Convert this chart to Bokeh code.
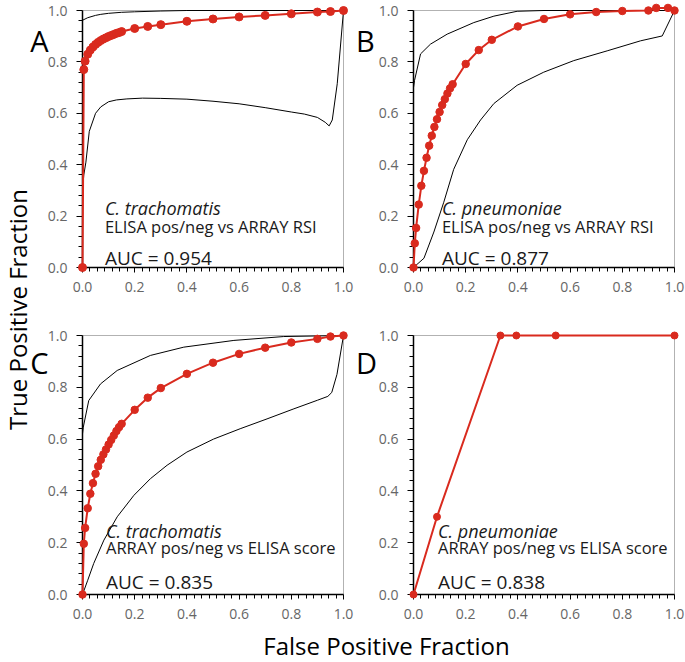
from bokeh.plotting import figure
from bokeh.models import Range1d, FixedTicker, Label, BoxAnnotation, NumeralTickFormatter, LinearAxis
from bokeh.layouts import row, column
from bokeh.embed import file_html
from bokeh.resources import INLINE

# ---------------- data ----------------
A_red_x = [0.0, 0.005, 0.01, 0.02, 0.03, 0.04, 0.05, 0.06, 0.07, 0.08, 0.09, 0.10, 0.11, 0.12, 0.13, 0.14, 0.15,
           0.2, 0.25, 0.3, 0.4, 0.5, 0.6, 0.7, 0.8, 0.9, 0.95, 1.0]
A_red_y = [0.0, 0.77, 0.803, 0.83, 0.846, 0.858, 0.868, 0.876, 0.883, 0.889, 0.894, 0.899, 0.903, 0.907, 0.911, 0.914, 0.918,
           0.930, 0.938, 0.945, 0.958, 0.967, 0.975, 0.981, 0.987, 0.994, 0.996, 1.0]
A_up_x = [0.0, 0.02, 0.05, 0.07, 0.1, 0.15, 0.2, 0.3, 0.4, 1.0]
A_up_y = [0.962, 0.972, 0.981, 0.985, 0.989, 0.993, 0.995, 0.998, 1.0, 1.0]
A_lo_x = [0.0, 0.005, 0.013, 0.026, 0.05, 0.07, 0.1, 0.13, 0.17, 0.23, 0.3, 0.4, 0.5, 0.6, 0.7, 0.8, 0.85, 0.9,
          0.93, 0.945, 0.957, 0.976, 1.0]
A_lo_y = [0.30, 0.36, 0.41, 0.53, 0.60, 0.625, 0.645, 0.652, 0.656, 0.659, 0.658, 0.655, 0.647, 0.637, 0.622, 0.605,
          0.597, 0.584, 0.565, 0.551, 0.574, 0.715, 1.0]

B_red_x = [0.0, 0.005, 0.01, 0.02, 0.03, 0.04, 0.05, 0.06, 0.07, 0.08, 0.09, 0.10, 0.11, 0.12, 0.13, 0.14, 0.15,
           0.2, 0.25, 0.3, 0.4, 0.5, 0.6, 0.7, 0.8, 0.9, 0.93, 0.975, 1.0]
B_red_y = [0.0, 0.094, 0.154, 0.245, 0.318, 0.376, 0.427, 0.474, 0.513, 0.547, 0.577, 0.605, 0.632, 0.655, 0.677, 0.697, 0.713,
           0.792, 0.846, 0.886, 0.938, 0.967, 0.985, 0.994, 0.998, 1.0, 1.01, 1.01, 1.0]
B_up_x = [0.0, 0.004, 0.027, 0.065, 0.129, 0.231, 0.308, 0.397, 0.5, 1.0]
B_up_y = [0.70, 0.728, 0.831, 0.869, 0.908, 0.953, 0.978, 0.997, 1.0, 1.0]
B_lo_x = [0.0, 0.04, 0.078, 0.116, 0.154, 0.206, 0.257, 0.308, 0.397, 0.499, 0.614, 0.742, 0.87, 0.953, 1.0]
B_lo_y = [0.0, 0.036, 0.138, 0.254, 0.382, 0.497, 0.574, 0.638, 0.709, 0.760, 0.805, 0.843, 0.882, 0.901, 1.0]

C_red_x = [0.0, 0.005, 0.01, 0.02, 0.03, 0.04, 0.05, 0.06, 0.07, 0.08, 0.09, 0.10, 0.11, 0.12, 0.13, 0.14, 0.15,
           0.2, 0.25, 0.3, 0.4, 0.5, 0.6, 0.7, 0.8, 0.9, 0.95, 1.0]
C_red_y = [0.0, 0.196, 0.257, 0.333, 0.389, 0.43, 0.466, 0.495, 0.52, 0.541, 0.56, 0.579, 0.597, 0.614, 0.631, 0.646, 0.659,
           0.713, 0.76, 0.797, 0.852, 0.895, 0.929, 0.953, 0.973, 0.987, 0.996, 1.0]
C_up_x = [0.0, 0.003, 0.024, 0.069, 0.133, 0.26, 0.388, 0.58, 0.771, 1.0]
C_up_y = [0.62, 0.646, 0.749, 0.813, 0.865, 0.923, 0.955, 0.981, 0.996, 1.0]
C_lo_x = [0.0, 0.02, 0.043, 0.082, 0.133, 0.197, 0.26, 0.324, 0.40, 0.502, 0.604, 0.707, 0.81, 0.90, 0.94, 0.955, 0.975, 1.0]
C_lo_y = [0.0, 0.055, 0.12, 0.21, 0.30, 0.383, 0.447, 0.499, 0.55, 0.60, 0.64, 0.678, 0.717, 0.75, 0.765, 0.78, 0.85, 1.0]

D_red_x = [0.0, 0.09, 0.333, 0.394, 0.545, 1.0]
D_red_y = [0.0, 0.30, 1.0, 1.0, 1.0, 1.0]

major_ticks = [0.0, 0.2, 0.4, 0.6, 0.8, 1.0]
x_minor_ticks = [round(i * 0.2 / 7, 5) for i in range(36) if i % 7 != 0]
y_minor_ticks = [round(i * 0.04, 4) for i in range(26) if i % 5 != 0]

panel_letters = ["A", "B", "C", "D"]
species = ["C. trachomatis", "C. pneumoniae", "C. trachomatis", "C. pneumoniae"]
comparisons = ["ELISA pos/neg vs ARRAY RSI", "ELISA pos/neg vs ARRAY RSI",
               "ARRAY pos/neg vs ELISA score", "ARRAY pos/neg vs ELISA score"]
auc_labels = ["AUC = 0.954", "AUC = 0.877", "AUC = 0.835", "AUC = 0.838"]
y_title = "True Positive Fraction"
x_title = "False Positive Fraction"

# ---------------- style / geometry (pixels) ----------------
RED = "#d92a1e"
FONT = "Open Sans"
TICK_GREY = "#666666"
TXT = "#1a1a1a"

SPLIT_X = 354      # page x where right column starts
PANELS_H = 628     # height of the two panel rows
XT_H = 34          # height of x-title strip
PAGE_W = 685
TOP_Y = (10, 267)  # page y of data 1 and data 0, top row
BOT_Y = (335, 594)  # bottom row


def style_axis(ax, minor, tout, standoff):
    ax.ticker = FixedTicker(ticks=major_ticks, minor_ticks=minor)
    ax.formatter = NumeralTickFormatter(format="0.0")
    ax.fixed_location = 0
    ax.bounds = (0, 1)
    ax.axis_line_color = "black"
    ax.axis_line_width = 1.5
    ax.major_tick_line_color = "black"
    ax.minor_tick_line_color = "black"
    ax.major_tick_line_width = 1
    ax.minor_tick_line_width = 1
    ax.major_tick_in = 0
    ax.minor_tick_in = 0
    ax.major_tick_out = tout
    ax.minor_tick_out = 4
    ax.major_label_text_font = FONT
    ax.major_label_text_font_size = "14px"
    ax.major_label_text_color = TICK_GREY
    ax.major_label_standoff = standoff


def yrange(y1, y0):
    sy = y0 - y1
    return Range1d((y0 - PANELS_H) / sy, y0 / sy)


def build_column(col_left, col_w, x0, x1, specs):
    sx = x1 - x0
    p = figure(frame_width=col_w, frame_height=PANELS_H,
               x_range=Range1d((col_left - x0) / sx, (col_left + col_w - x0) / sx),
               y_range=yrange(*TOP_Y), output_backend="svg", toolbar_location=None,
               min_border_left=0, min_border_right=0, min_border_top=0, min_border_bottom=0)
    p.extra_y_ranges = {"bot": yrange(*BOT_Y)}
    p.xgrid.visible = False
    p.ygrid.visible = False
    p.outline_line_color = None
    p.background_fill_color = "white"
    p.border_fill_color = "white"

    for rname, s in zip(("default", "bot"), specs):
        if rname == "default":
            xa, ya = p.xaxis[0], p.yaxis[0]
        else:
            xa = LinearAxis(y_range_name="bot")
            ya = LinearAxis(y_range_name="bot")
            p.add_layout(xa, "below")
            p.add_layout(ya, "left")
        style_axis(xa, x_minor_ticks, 5, 9)
        style_axis(ya, y_minor_ticks, 6, 9)

        p.add_layout(BoxAnnotation(left=0, right=1, bottom=0, top=1, fill_alpha=0, y_range_name=rname,
                                   line_color="black", line_width=1, level="underlay"))
        for cx, cy in s["curves"]:
            p.line(cx, cy, line_color="black", line_width=1, y_range_name=rname)
        rx, ry = s["red"]
        rl = p.line(rx, ry, line_color=RED, line_width=2, y_range_name=rname)
        rs = p.scatter(rx, ry, size=s["dot"], fill_color=RED, line_color=RED, y_range_name=rname)
        rl.level = "overlay"
        rs.level = "overlay"

        i = s["idx"]
        p.add_layout(Label(x=s["letter_x"], y=s["letter_y"], y_range_name=rname, text=panel_letters[i],
                           text_font=FONT, text_font_size="29px", text_color="black", text_baseline="middle"))
        t1, t2, t3 = s["text_y"]
        tx = s["text_x"]
        p.add_layout(Label(x=tx, y=t1, y_range_name=rname, text=species[i], text_font=FONT,
                           text_font_size="18px", text_font_style="italic", text_color=TXT,
                           text_baseline="middle"))
        p.add_layout(Label(x=tx, y=t2, y_range_name=rname, text=comparisons[i], text_font=FONT,
                           text_font_size="16.5px", text_color=TXT, text_baseline="middle"))
        p.add_layout(Label(x=tx, y=t3, y_range_name=rname, text=auc_labels[i], text_font=FONT,
                           text_font_size="19px", text_color=TXT, text_baseline="middle"))
    return p


top_text = (0.233, 0.161, 0.037)
bot_text = (0.247, 0.18, 0.048)

left_col = build_column(0, SPLIT_X, 82, 343, [
    dict(idx=0, red=(A_red_x, A_red_y), curves=[(A_up_x, A_up_y), (A_lo_x, A_lo_y)], dot=8,
         text_x=0.086, text_y=top_text, letter_x=-0.2, letter_y=0.885),
    dict(idx=2, red=(C_red_x, C_red_y), curves=[(C_up_x, C_up_y), (C_lo_x, C_lo_y)], dot=7.5,
         text_x=0.09, text_y=bot_text, letter_x=-0.2, letter_y=0.895),
])
right_col = build_column(SPLIT_X, PAGE_W - SPLIT_X, 413, 674, [
    dict(idx=1, red=(B_red_x, B_red_y), curves=[(B_up_x, B_up_y), (B_lo_x, B_lo_y)], dot=7.5,
         text_x=0.109, text_y=top_text, letter_x=-0.22, letter_y=0.885),
    dict(idx=3, red=(D_red_x, D_red_y), curves=[], dot=7,
         text_x=0.094, text_y=bot_text, letter_x=-0.22, letter_y=0.895),
])

# y title lives in the left column (page x ~17, page y ~309)
left_col.add_layout(Label(x=(17 - 82) / 261, y=(267 - 309) / 257, text=y_title, angle=1.5707963,
                          text_font=FONT, text_font_size="24px", text_color="black",
                          text_align="center", text_baseline="middle"))

xtitle = figure(frame_width=PAGE_W, frame_height=XT_H, x_range=Range1d(0, PAGE_W), y_range=Range1d(0, XT_H),
                x_axis_type=None, y_axis_type=None, output_backend="svg", toolbar_location=None,
                min_border_left=0, min_border_right=0, min_border_top=0, min_border_bottom=0)
xtitle.outline_line_color = None
xtitle.add_layout(Label(x=386, y=XT_H / 2, text=x_title,
                        text_font=FONT, text_font_size="24px", text_color="black",
                        text_align="center", text_baseline="middle"))

layout = column(row(left_col, right_col), xtitle)
open("out.html", "w").write(file_html(layout, INLINE))
